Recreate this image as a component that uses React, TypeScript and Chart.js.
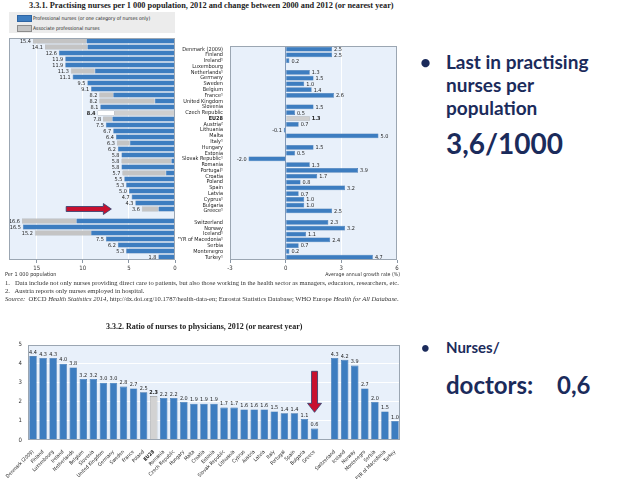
import React, { useEffect, useRef } from 'react';
import { Chart, registerables } from 'chart.js';
Chart.register(...registerables);

// ---------- DATA ----------
const countriesA = ['Denmark (2009)', 'Finland', 'Ireland¹', 'Luxembourg', 'Netherlands¹', 'Germany', 'Sweden', 'Belgium', 'France¹', 'United Kingdom', 'Slovenia', 'Czech Republic', 'EU28', 'Austria²', 'Lithuania', 'Malta', 'Italy¹', 'Hungary', 'Estonia', 'Slovak Republic¹', 'Romania', 'Portugal¹', 'Croatia', 'Poland', 'Spain', 'Latvia', 'Cyprus¹', 'Bulgaria', 'Greece¹', '', 'Switzerland', 'Norway', 'Iceland¹', 'FYR of Macedonia¹', 'Serbia', 'Montenegro', 'Turkey¹'];
const professional = [9.6, 9.5, 12.6, 11.9, 11.9, 8.7, 11.1, 9.5, 9.1, 6.7, 2.2, 8.1, 6.6, 6.8, 7.5, 6.7, 6.4, 4.9, 6.2, 5.8, 0.4, 5.8, 1.0, 5.5, 5.3, 5.0, 4.7, 4.3, 1.8, null, 10.7, 16.5, 9.1, 7.5, 6.2, 5.3, 1.8];
const associate = [5.8, 4.6, 0, 0, 0, 2.6, 0, 0, 0, 1.5, 6.0, 0, 1.8, 1.0, 0, 0, 0, 1.4, 0, 0, 5.4, 0, 4.7, 0, 0, 0, 0, 0, 1.8, null, 5.9, 0, 6.1, 0, 0, 0, 0];
const growth = [2.5, 2.5, 0.2, null, 1.3, 1.5, 1.0, 1.4, 2.6, null, 1.5, 0.5, 1.3, 0.7, -0.1, 5.0, null, 1.5, 0.5, -2.0, 1.3, 3.9, 1.7, 0.8, 3.2, 0.7, 1.0, 1.0, 2.5, null, 2.3, 3.2, 1.1, 2.4, 0.7, 0.2, 4.7];
const ticksA = [0, 5, 10, 15];
const ticksB = [-3, 0, 3, 6];

const countriesC = ['Denmark (2009)', 'Finland', 'Luxembourg', 'Ireland', 'Netherlands', 'Belgium', 'Slovenia', 'United Kingdom', 'Germany', 'Sweden', 'France', 'Poland', 'EU28', 'Romania', 'Czech Republic', 'Hungary', 'Malta', 'Croatia', 'Estonia', 'Slovak Republic', 'Lithuania', 'Cyprus', 'Austria', 'Latvia', 'Italy', 'Portugal', 'Spain', 'Bulgaria', 'Greece', '', 'Switzerland', 'Iceland', 'Norway', 'Montenegro', 'Serbia', 'FYR of Macedonia', 'Turkey'];
const ratio = [4.4, 4.3, 4.3, 4.0, 3.8, 3.2, 3.2, 3.0, 3.0, 2.8, 2.7, 2.5, 2.3, 2.2, 2.2, 2.0, 1.9, 1.9, 1.9, 1.7, 1.7, 1.6, 1.6, 1.6, 1.5, 1.4, 1.4, 1.1, 0.6, null, 4.3, 4.2, 3.9, 2.7, 2.0, 1.5, 1.0];
const ticksC = [0, 1, 2, 3, 4, 5];

// arrow annotations (value space)
const arrowA = { row: 'Greece¹', from: 11.8, to: 6.9 };
const arrowC = { col: 'Greece', from: 3.6, to: 1.45 };

// ---------- STYLE ----------
const SANS = '"Liberation Sans Narrow", "DejaVu Sans Condensed", "Liberation Sans", sans-serif';
const SERIF = '"Liberation Serif", "DejaVu Serif", serif';
const BLUE = '#3d7dc0';
const BLUE_B = '#2f65a3';
const GREY = '#c4c4c4';
const GREY_B = '#8c8c8c';
const PLOT_BG = '#e8f0fa';
const PLOT_BORDER = '#9ba6b2';
const GRID = 'rgba(255,255,255,0.95)';
const NAVY = '#1b2b5b';
const RED = '#c8102e';
const RFONT = 'Lato, "Open Sans", sans-serif';

const bgPlugin = {
  id: 'plotbg',
  beforeDraw(chart: any) {
    const { ctx, chartArea: a } = chart;
    ctx.save();
    ctx.fillStyle = PLOT_BG;
    ctx.fillRect(a.left, a.top, a.width, a.height);
    ctx.restore();
  },
  afterDraw(chart: any) {
    const { ctx, chartArea: a } = chart;
    ctx.save();
    ctx.strokeStyle = PLOT_BORDER;
    ctx.lineWidth = 1;
    ctx.strokeRect(Math.round(a.left) + 0.5, Math.round(a.top) + 0.5, Math.round(a.width) - 1, Math.round(a.height) - 1);
    ctx.restore();
  },
};

function drawArrow(ctx: CanvasRenderingContext2D, x0: number, y0: number, x1: number, y1: number, shaft: number, headW: number, headL: number) {
  const dx = x1 - x0, dy = y1 - y0;
  const len = Math.hypot(dx, dy);
  const ux = dx / len, uy = dy / len;
  const px = -uy, py = ux;
  const bx = x1 - ux * headL, by = y1 - uy * headL;
  ctx.beginPath();
  ctx.moveTo(x0 + px * shaft / 2, y0 + py * shaft / 2);
  ctx.lineTo(bx + px * shaft / 2, by + py * shaft / 2);
  ctx.lineTo(bx + px * headW / 2, by + py * headW / 2);
  ctx.lineTo(x1, y1);
  ctx.lineTo(bx - px * headW / 2, by - py * headW / 2);
  ctx.lineTo(bx - px * shaft / 2, by - py * shaft / 2);
  ctx.lineTo(x0 - px * shaft / 2, y0 - py * shaft / 2);
  ctx.closePath();
  ctx.fillStyle = RED;
  ctx.fill();
  ctx.strokeStyle = '#2b3f6e';
  ctx.lineWidth = 0.8;
  ctx.stroke();
}

function useChart(make: (c: HTMLCanvasElement) => Chart) {
  const ref = useRef<HTMLCanvasElement | null>(null);
  useEffect(() => {
    if (!ref.current) return;
    const ch = make(ref.current);
    return () => ch.destroy();
  }, []);
  return ref;
}

const nz = (v: number | null) => (v ? v : null);

function ChartA() {
  const eu = countriesA.indexOf('EU28');
  const ref = useChart((c) => new Chart(c, {
    type: 'bar',
    data: {
      labels: countriesA,
      datasets: [
        {
          label: 'Professional nurses (or one category of nurses only)',
          data: professional.map(nz),
          backgroundColor: (x: any) => (x.dataIndex === eu ? '#cfcfcf' : BLUE),
          borderColor: (x: any) => (x.dataIndex === eu ? GREY_B : BLUE_B),
          borderWidth: 0.5,
          barPercentage: 0.82,
          categoryPercentage: 1,
        },
        {
          label: 'Associate professional nurses',
          data: associate.map(nz),
          backgroundColor: (x: any) => (x.dataIndex === eu ? '#ffffff' : GREY),
          borderColor: GREY_B,
          borderWidth: 0.5,
          barPercentage: 0.82,
          categoryPercentage: 1,
        },
      ],
    },
    options: {
      indexAxis: 'y',
      animation: false,
      responsive: false,
      maintainAspectRatio: false,
      layout: { padding: { left: 9, right: 5, top: 2, bottom: 0 } },
      plugins: { legend: { display: false }, tooltip: { enabled: false } },
      scales: {
        x: {
          stacked: true, reverse: true, min: 0, max: 18,
          afterBuildTicks: (s: any) => { s.ticks = ticksA.map((v) => ({ value: v })); },
          ticks: { font: { size: 6, family: SANS }, color: '#333', padding: 2 },
          grid: { color: GRID, tickLength: 3, tickColor: '#8a96a3' },
          border: { display: false },
          afterFit: (s: any) => { s.height = 16; },
        },
        y: { stacked: true, display: false },
      },
    },
    plugins: [bgPlugin, {
      id: 'labelsA',
      afterDatasetsDraw(chart: any) {
        const { ctx } = chart;
        const xs = chart.scales.x, ys = chart.scales.y;
        ctx.save();
        ctx.fillStyle = '#222';
        ctx.textAlign = 'right';
        ctx.textBaseline = 'middle';
        professional.forEach((p, i) => {
          if (p == null) return;
          const t = p + (associate[i] || 0);
          ctx.font = `${i === eu ? 'bold ' : ''}5.5px ${SANS}`;
          ctx.fillText(t.toFixed(1), xs.getPixelForValue(t) - 2, ys.getPixelForValue(i) + 0.5);
        });
        const r = countriesA.indexOf(arrowA.row);
        const y = ys.getPixelForValue(r);
        drawArrow(ctx, xs.getPixelForValue(arrowA.from), y, xs.getPixelForValue(arrowA.to), y, 5, 11, 8);
        ctx.restore();
      },
    }],
  } as any));
  return <canvas ref={ref} width={180} height={240} style={{ position: 'absolute', left: 0, top: 36, width: 180, height: 240 }} />;
}

function ChartB() {
  const eu = countriesA.indexOf('EU28');
  const ref = useChart((c) => new Chart(c, {
    type: 'bar',
    data: {
      labels: countriesA,
      datasets: [{
        label: 'Average annual growth rate (%)',
        data: growth,
        backgroundColor: (x: any) => (x.dataIndex === eu ? '#cfcfcf' : BLUE),
        borderColor: (x: any) => (x.dataIndex === eu ? GREY_B : BLUE_B),
        borderWidth: 0.5,
        barPercentage: 0.82,
        categoryPercentage: 1,
      }],
    },
    options: {
      indexAxis: 'y',
      animation: false,
      responsive: false,
      maintainAspectRatio: false,
      layout: { padding: { left: 0, right: 6, top: 2, bottom: 0 } },
      plugins: { legend: { display: false }, tooltip: { enabled: false } },
      scales: {
        x: {
          min: -3, max: 6,
          afterBuildTicks: (s: any) => { s.ticks = ticksB.map((v) => ({ value: v })); },
          ticks: { font: { size: 6, family: SANS }, color: '#333', padding: 2 },
          grid: {
            color: (x: any) => (x.tick && x.tick.value === 0 ? '#7f98b8' : GRID),
            tickLength: 3, tickColor: '#8a96a3',
          },
          border: { display: false },
          afterFit: (s: any) => { s.height = 16; },
        },
        y: {
          ticks: {
            autoSkip: false,
            font: (x: any) => ({ size: 5.5, family: SANS, weight: x.index === eu ? 'bold' : 'normal' }),
            color: '#222', padding: 7,
          },
          grid: { display: false, drawTicks: false },
          border: { display: false },
          afterFit: (s: any) => { s.width = 52; },
        },
      },
    },
    plugins: [bgPlugin, {
      id: 'labelsB',
      afterDatasetsDraw(chart: any) {
        const { ctx } = chart;
        const xs = chart.scales.x, ys = chart.scales.y;
        ctx.save();
        ctx.fillStyle = '#222';
        ctx.textBaseline = 'middle';
        growth.forEach((g, i) => {
          if (g == null) return;
          ctx.font = `${i === eu ? 'bold ' : ''}5.5px ${SANS}`;
          ctx.textAlign = g < 0 ? 'right' : 'left';
          ctx.fillText(g.toFixed(1), xs.getPixelForValue(g) + (g < 0 ? -2 : 2), ys.getPixelForValue(i) + 0.5);
        });
        ctx.restore();
      },
    }],
  } as any));
  return <canvas ref={ref} width={225} height={240} style={{ position: 'absolute', left: 178, top: 36, width: 225, height: 240 }} />;
}

function ChartC() {
  const eu = countriesC.indexOf('EU28');
  const ref = useChart((c) => new Chart(c, {
    type: 'bar',
    data: {
      labels: countriesC,
      datasets: [{
        label: 'Ratio of nurses to physicians',
        data: ratio,
        backgroundColor: (x: any) => (x.dataIndex === eu ? '#d2d2d2' : BLUE),
        borderColor: (x: any) => (x.dataIndex === eu ? GREY_B : BLUE_B),
        borderWidth: 0.6,
        barPercentage: 0.74,
        categoryPercentage: 1,
      }],
    },
    options: {
      animation: false,
      responsive: false,
      maintainAspectRatio: false,
      layout: { padding: { left: 0, right: 10, top: 5, bottom: 0 } },
      plugins: { legend: { display: false }, tooltip: { enabled: false } },
      scales: {
        x: {
          ticks: {
            autoSkip: false, minRotation: 45, maxRotation: 45,
            font: (x: any) => ({ size: 5, family: SANS, weight: x.index === eu ? 'bold' : 'normal' }),
            color: '#222', padding: 1,
          },
          grid: { display: false },
          border: { display: false },
          afterFit: (s: any) => { s.height = 39; },
        },
        y: {
          min: 0, max: 5,
          afterBuildTicks: (s: any) => { s.ticks = ticksC.map((v) => ({ value: v })); },
          ticks: { font: { size: 6, family: SANS }, color: '#333', padding: 6 },
          grid: { color: GRID, drawTicks: false },
          border: { display: false },
          afterFit: (s: any) => { s.width = 28; },
        },
      },
    },
    plugins: [bgPlugin, {
      id: 'labelsC',
      afterDatasetsDraw(chart: any) {
        const { ctx } = chart;
        const xs = chart.scales.x, ys = chart.scales.y;
        ctx.save();
        ctx.fillStyle = '#222';
        ctx.textAlign = 'center';
        ctx.textBaseline = 'bottom';
        ratio.forEach((r, i) => {
          if (r == null) return;
          ctx.font = `${i === eu ? 'bold ' : ''}5.5px ${SANS}`;
          ctx.fillText(r.toFixed(1), xs.getPixelForValue(i), ys.getPixelForValue(r) - 1);
        });
        const ci = countriesC.indexOf(arrowC.col);
        const x = xs.getPixelForValue(ci);
        drawArrow(ctx, x, ys.getPixelForValue(arrowC.from), x, ys.getPixelForValue(arrowC.to), 6, 14, 9);
        ctx.restore();
      },
    }],
  } as any));
  return <canvas ref={ref} width={410} height={144} style={{ position: 'absolute', left: 0, top: 335, width: 410, height: 144 }} />;
}

const abs = (s: React.CSSProperties): React.CSSProperties => ({ position: 'absolute', whiteSpace: 'nowrap', ...s });

export default function App() {
  return (
    <div style={{ position: 'fixed', left: 0, top: 0, width: 638, height: 479, background: '#fff', overflow: 'hidden' }}>
      <div style={abs({ left: 29, top: 1, font: `bold 8.3px/10px ${SERIF}`, color: '#222' })}>
        3.3.1. Practising nurses per 1 000 population, 2012 and change between 2000 and 2012 (or nearest year)
      </div>
      <div style={abs({ left: 9, top: 12, width: 166, height: 21, background: '#ececec' })} />
      <div style={abs({ left: 17, top: 15, width: 13, height: 5, background: BLUE, border: `0.5px solid ${BLUE_B}` })} />
      <div style={abs({ left: 33, top: 13.5, font: `5px/8px ${SANS}`, color: '#222' })}>Professional nurses (or one category of nurses only)</div>
      <div style={abs({ left: 17, top: 25, width: 13, height: 5, background: GREY, border: `0.5px solid ${GREY_B}` })} />
      <div style={abs({ left: 33, top: 23.5, font: `5px/8px ${SANS}`, color: '#222' })}>Associate professional nurses</div>

      <ChartA />
      <ChartB />

      <div style={abs({ left: 5, top: 270, font: `5.5px/8px ${SANS}`, color: '#333' })}>Per 1 000 population</div>
      <div style={abs({ left: 300, width: 100, textAlign: 'right', top: 270, font: `5.2px/8px ${SANS}`, color: '#333' })}>Average annual growth rate (%)</div>
      <div style={abs({ left: 5, top: 279, font: `6.6px/8px ${SERIF}`, color: '#333' })}>
        1.&nbsp;&nbsp; Data include not only nurses providing direct care to patients, but also those working in the health sector as managers, educators, researchers, etc.
      </div>
      <div style={abs({ left: 5, top: 287, font: `6.6px/8px ${SERIF}`, color: '#333' })}>
        2.&nbsp;&nbsp; Austria reports only nurses employed in hospital.
      </div>
      <div style={abs({ left: 5, top: 295, font: `6.6px/8px ${SERIF}`, color: '#333' })}>
        <i>Source:</i>&nbsp; OECD <i>Health Statistics 2014</i>, http://dx.doi.org/10.1787/health-data-en; Eurostat Statistics Database; WHO Europe <i>Health for All Database</i>.
      </div>

      <div style={abs({ left: 106, top: 322, font: `bold 8px/10px ${SERIF}`, color: '#222' })}>
        3.3.2. Ratio of nurses to physicians, 2012 (or nearest year)
      </div>
      <ChartC />

      <div style={abs({ left: 420, top: 50, font: `bold 19px/23px ${RFONT}`, color: NAVY })}>•</div>
      <div style={abs({ left: 446, top: 50, font: `bold 19px/23px ${RFONT}`, color: NAVY })}>
        Last in practising<br />nurses per<br />population
      </div>
      <div style={abs({ left: 446, top: 126, font: `bold 28px/34px ${RFONT}`, color: NAVY })}>3,6/1000</div>

      <div style={abs({ left: 421, top: 337, font: `bold 15px/20px ${RFONT}`, color: NAVY })}>•</div>
      <div style={abs({ left: 446, top: 337, font: `bold 15px/20px ${RFONT}`, color: NAVY })}>Nurses/</div>
      <div style={abs({ left: 446, top: 370, font: `bold 24px/30px ${RFONT}`, color: NAVY })}>doctors:</div>
      <div style={abs({ left: 557, top: 370, font: `bold 24px/30px ${RFONT}`, color: NAVY })}>0,6</div>
    </div>
  );
}
